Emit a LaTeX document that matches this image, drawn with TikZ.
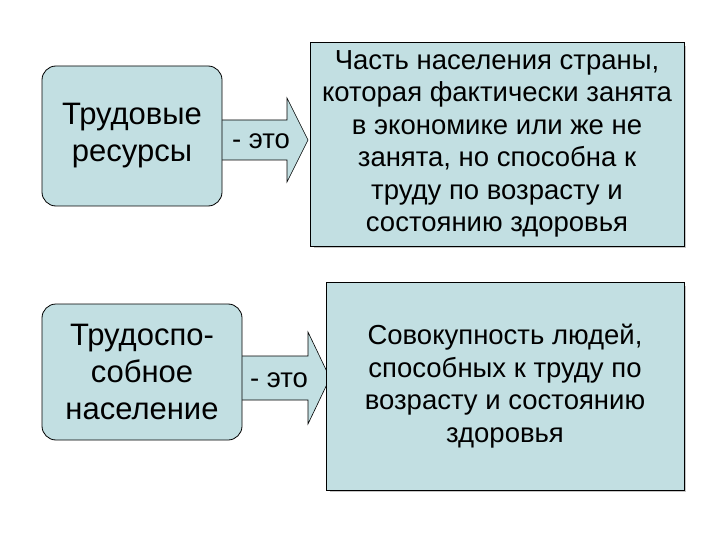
\documentclass[tikz,border=0pt]{standalone}
\usepackage{fontspec}
\setmainfont{Liberation Sans}
\definecolor{boxfill}{HTML}{C2DFE2}
\begin{document}
\begin{tikzpicture}[x=1pt,y=-1pt,
  lbox/.style={draw=black,fill=boxfill,rounded corners=14pt,line width=0.8pt,align=center,font=\fontsize{31}{37}\selectfont},
  rbox/.style={draw=black,fill=boxfill,line width=0.8pt,align=center,font=\fontsize{27.5}{32.5}\selectfont},
  shadowed/.style={fill=gray!45},
  arr/.style={draw=black,fill=boxfill,line width=0.6pt},
  lbl/.style={font=\fontsize{27.5}{30}\selectfont}]
\useasboundingbox (0,0) rectangle (720,540);
% top arrow
\draw[arr] (222,120) -- (287,120) -- (287,98) -- (308,140) -- (287,182) -- (287,160) -- (222,160);
\node[lbl] (a1) at (261,141) {- это};
% bottom arrow
\draw[arr] (242,356) -- (308,356) -- (308,332) -- (330,378) -- (308,424) -- (308,400) -- (242,400);
\node[lbl] (a2) at (279,380) {- это};
% boxes
\node[lbox,minimum width=180pt,minimum height=140pt] (tl) at (132,136) {Трудовые\\ресурсы};
\node[lbox,minimum width=200pt,minimum height=136pt] (bl) at (142,372) {Трудоспо-\\собное\\население};
\fill[shadowed] (314,46) rectangle (686,248);
\node[rbox,minimum width=374pt,minimum height=204pt] (tr) at (497,144) {Часть населения страны,\\которая фактически занята\\в экономике или же не\\занята, но способна к\\труду по возрасту и\\состоянию здоровья};
\fill[shadowed] (330,286) rectangle (686,492);
\node[rbox,minimum width=358pt,minimum height=208pt] (br) at (505,386) {Совокупность людей,\\способных к труду по\\возрасту и состоянию\\здоровья};
\end{tikzpicture}
\end{document}
